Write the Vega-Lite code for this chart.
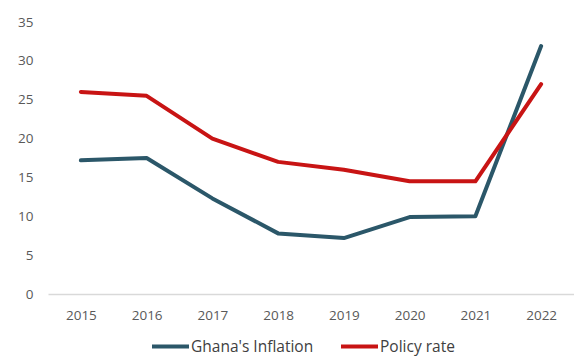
{
  "$schema": "https://vega.github.io/schema/vega-lite/v6.json",
  "width": 526,
  "height": 272,
  "autosize": {"type": "none"},
  "padding": {"left": 48, "top": 22, "right": 0, "bottom": 62},
  "background": "white",
  "config": {
    "view": {"stroke": null},
    "font": "Open Sans",
    "axis": {"labelFont": "Open Sans", "labelFontSize": 13.5, "labelColor": "#595959", "grid": false, "ticks": false, "title": null},
    "legend": {"labelFont": "Open Sans", "labelFontSize": 15.5, "labelColor": "#404040"}
  },
  "data": {
    "values": [
      {"year": "2015", "series": "Ghana's Inflation", "value": 17.2},
      {"year": "2016", "series": "Ghana's Inflation", "value": 17.5},
      {"year": "2017", "series": "Ghana's Inflation", "value": 12.3},
      {"year": "2018", "series": "Ghana's Inflation", "value": 7.8},
      {"year": "2019", "series": "Ghana's Inflation", "value": 7.2},
      {"year": "2020", "series": "Ghana's Inflation", "value": 9.9},
      {"year": "2021", "series": "Ghana's Inflation", "value": 10.0},
      {"year": "2022", "series": "Ghana's Inflation", "value": 31.9},
      {"year": "2015", "series": "Policy rate", "value": 26.0},
      {"year": "2016", "series": "Policy rate", "value": 25.5},
      {"year": "2017", "series": "Policy rate", "value": 20.0},
      {"year": "2018", "series": "Policy rate", "value": 17.0},
      {"year": "2019", "series": "Policy rate", "value": 16.0},
      {"year": "2020", "series": "Policy rate", "value": 14.5},
      {"year": "2021", "series": "Policy rate", "value": 14.5},
      {"year": "2022", "series": "Policy rate", "value": 27.0}
    ]
  },
  "mark": {"type": "line", "strokeWidth": 4, "strokeJoin": "round", "strokeCap": "round"},
  "encoding": {
    "x": {
      "field": "year", "type": "ordinal",
      "scale": {"type": "point", "padding": 0.5},
      "axis": {"labelAngle": 0, "labelPadding": 14, "domainColor": "#d9d9d9", "domainWidth": 1.5}
    },
    "y": {
      "field": "value", "type": "quantitative",
      "scale": {"domain": [0, 35], "nice": false},
      "axis": {"values": [0, 5, 10, 15, 20, 25, 30, 35], "domain": false, "labelPadding": 15}
    },
    "color": {
      "field": "series", "type": "nominal",
      "scale": {"domain": ["Ghana's Inflation", "Policy rate"], "range": ["#2b5769", "#c81414"]},
      "legend": {
        "orient": "none", "legendX": 102, "legendY": 304, "direction": "horizontal", "title": null,
        "symbolType": "stroke", "symbolSize": 1369, "symbolStrokeWidth": 4,
        "labelOffset": 0, "columnPadding": 19, "padding": 0
      }
    }
  }
}
